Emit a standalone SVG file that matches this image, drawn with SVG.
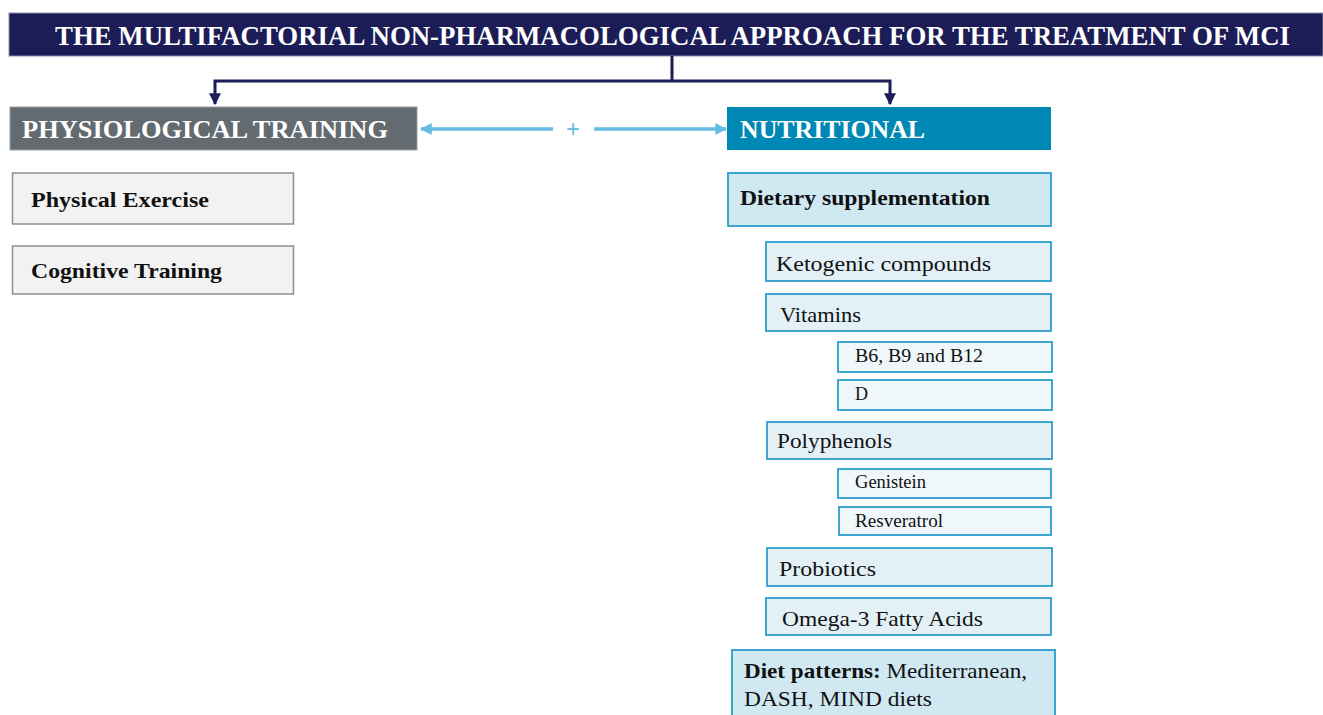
<svg xmlns="http://www.w3.org/2000/svg" width="1323" height="715" viewBox="0 0 1323 715">
  <style>
    text { font-family: "Liberation Serif", "Times New Roman", serif; }
    .title { fill: #ffffff; font-weight: bold; font-size: 27px; }
    .head { fill: #ffffff; font-weight: bold; font-size: 26px; }
    .grey { fill: #f2f2f2; stroke: #8e8e8e; stroke-width: 1.5; }
    .lbl-b { fill: #111111; font-weight: bold; font-size: 21.5px; }
    .lbl { fill: #111111; font-size: 22px; }
    .lbl-s { fill: #111111; font-size: 18px; }
    .main { fill: #cfe8f1; stroke: #2a9dcb; stroke-width: 1.8; }
    .sub { fill: #e3f1f7; stroke: #2a9dcb; stroke-width: 1.8; }
    .leaf { fill: #f0f7fa; stroke: #2a9dcb; stroke-width: 1.8; }
    .tree { fill: none; stroke: #1c1d56; stroke-width: 3; }
    .link { fill: none; stroke: #64bde0; stroke-width: 3.5; }
  </style>
  <defs>
    <marker id="navyHead" viewBox="0 0 10 10" refX="9" refY="5" markerWidth="4" markerHeight="4" orient="auto" markerUnits="strokeWidth">
      <path d="M0,0 L10,5 L0,10 Z" fill="#1c1d56"/>
    </marker>
    <marker id="blueHead" viewBox="0 0 10 10" refX="9" refY="5" markerWidth="3.4" markerHeight="3.4" orient="auto" markerUnits="strokeWidth">
      <path d="M0,0 L10,5 L0,10 Z" fill="#64bde0"/>
    </marker>
  </defs>

  <g id="title">
    <rect x="9" y="13" width="1314" height="43" fill="#1c1d56" stroke="#8a8cae" stroke-width="1"/>
    <text class="title" x="55" y="45" textLength="1235" lengthAdjust="spacingAndGlyphs">THE MULTIFACTORIAL  NON-PHARMACOLOGICAL  APPROACH FOR THE  TREATMENT  OF MCI</text>
  </g>

  <g id="connectors">
    <path class="tree" d="M672,56 V81"/>
    <path class="tree" d="M672,81 H215 V104" marker-end="url(#navyHead)"/>
    <path class="tree" d="M672,81 H890 V104" marker-end="url(#navyHead)"/>
    <path class="link" d="M553,129 H421" marker-end="url(#blueHead)"/>
    <path class="link" d="M594,129 H726" marker-end="url(#blueHead)"/>
    <text x="573" y="137" text-anchor="middle" font-size="24" fill="#64bde0" style="font-family: 'Liberation Sans', Arial, sans-serif;">+</text>
  </g>

  <g id="physiological-training">
    <rect x="10" y="107" width="407" height="43" fill="#636a70" stroke="#9aa0a4" stroke-width="1"/>
    <text class="head" x="22" y="138" textLength="366" lengthAdjust="spacingAndGlyphs">PHYSIOLOGICAL  TRAINING</text>
  </g>

  <g id="nutritional">
    <rect x="727" y="107" width="324" height="43" fill="#0088b5"/>
    <text class="head" x="740" y="138" textLength="185" lengthAdjust="spacingAndGlyphs">NUTRITIONAL</text>
  </g>

  <g id="physical-exercise">
    <rect class="grey" x="12.5" y="173" width="281" height="51"/>
    <text class="lbl-b" x="31" y="207" textLength="178" lengthAdjust="spacingAndGlyphs">Physical Exercise</text>
  </g>

  <g id="cognitive-training">
    <rect class="grey" x="12.5" y="246" width="281" height="48"/>
    <text class="lbl-b" x="31" y="278" textLength="191" lengthAdjust="spacingAndGlyphs">Cognitive Training</text>
  </g>

  <g id="dietary-supplementation">
    <rect class="main" x="728" y="173" width="323" height="53"/>
    <text class="lbl-b" x="740" y="205" textLength="250" lengthAdjust="spacingAndGlyphs">Dietary supplementation</text>
  </g>

  <g id="ketogenic-compounds">
    <rect class="sub" x="766" y="242" width="285" height="39"/>
    <text class="lbl" x="776" y="271" textLength="215" lengthAdjust="spacingAndGlyphs">Ketogenic  compounds</text>
  </g>

  <g id="vitamins">
    <rect class="sub" x="766" y="294" width="285" height="37"/>
    <text class="lbl" x="780" y="322" textLength="81" lengthAdjust="spacingAndGlyphs">Vitamins</text>
  </g>

  <g id="vitamin-b">
    <rect class="leaf" x="838" y="342" width="214" height="30"/>
    <text class="lbl-s" x="855" y="362" textLength="128" lengthAdjust="spacingAndGlyphs">B6, B9 and B12</text>
  </g>

  <g id="vitamin-d">
    <rect class="leaf" x="838" y="380" width="214" height="30"/>
    <text class="lbl-s" x="855" y="400">D</text>
  </g>

  <g id="polyphenols">
    <rect class="sub" x="767" y="422" width="285" height="37" fill="#ddeef5"/>
    <text class="lbl" x="777" y="448" textLength="115" lengthAdjust="spacingAndGlyphs">Polyphenols</text>
  </g>

  <g id="genistein">
    <rect class="leaf" x="838" y="469" width="213" height="29"/>
    <text class="lbl-s" x="855" y="488" textLength="71" lengthAdjust="spacingAndGlyphs">Genistein</text>
  </g>

  <g id="resveratrol">
    <rect class="leaf" x="839" y="507" width="212" height="28"/>
    <text class="lbl-s" x="855" y="527" textLength="88" lengthAdjust="spacingAndGlyphs">Resveratrol</text>
  </g>

  <g id="probiotics">
    <rect class="sub" x="767" y="548" width="285" height="38"/>
    <text class="lbl" x="779" y="576" textLength="97" lengthAdjust="spacingAndGlyphs">Probiotics</text>
  </g>

  <g id="omega-3">
    <rect class="sub" x="766" y="598" width="285" height="37"/>
    <text class="lbl" x="782" y="626" textLength="201" lengthAdjust="spacingAndGlyphs">Omega-3  Fatty Acids</text>
  </g>

  <g id="diet-patterns">
    <rect class="main" x="732" y="650" width="323" height="70"/>
    <text class="lbl" x="744" y="678" textLength="283" lengthAdjust="spacingAndGlyphs"><tspan font-weight="bold">Diet patterns:</tspan> Mediterranean,</text>
    <text class="lbl" x="744" y="706" textLength="188" lengthAdjust="spacingAndGlyphs">DASH, MIND  diets</text>
  </g>
</svg>
